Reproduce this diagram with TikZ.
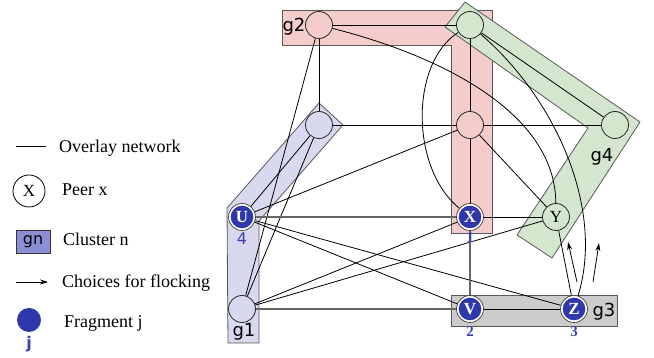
\documentclass[tikz,border=0pt]{standalone}
\usepackage{fontspec}
\setmainfont{Liberation Serif}
\newfontfamily\gfont{DejaVu Sans}
\usetikzlibrary{arrows.meta}
\definecolor{pinkc}{RGB}{244,204,204}
\definecolor{greenc}{RGB}{212,230,205}
\definecolor{lavc}{RGB}{216,216,238}
\definecolor{grayc}{RGB}{204,204,204}
\definecolor{fragblue}{RGB}{46,56,170}
\definecolor{numblue}{RGB}{58,66,184}
\definecolor{legbox}{RGB}{140,142,214}
\begin{document}
\begin{tikzpicture}[x=1pt,y=1pt,
  clusterbox/.style={draw=black!65, line width=0.8pt},
  peer/.style={circle, draw=black!85, line width=0.8pt, minimum size=27pt, inner sep=0pt, font=\fontsize{17}{17}\selectfont},
  frag/.style={circle, draw=black!75, line width=0.7pt, fill=white, minimum size=27pt, inner sep=0pt, text=white, font=\fontsize{17}{17}\selectfont\bfseries, path picture={\fill[fragblue] (path picture bounding box.center) circle (11.3pt);}},
  edge/.style={draw=black, line width=0.8pt},
  grayedge/.style={draw=black!60, line width=1.3pt},
  glabel/.style={anchor=base, font=\gfont\fontsize{18}{18}\selectfont, inner sep=0pt},
  numlabel/.style={text=numblue, font=\fontsize{15}{15}\selectfont\bfseries, inner sep=0pt},
  legtext/.style={anchor=base west, inner sep=0pt, font=\fontsize{18}{18}\selectfont},
  flock/.style={-{Stealth[length=8pt,width=5pt]}, line width=0.8pt}
]
\useasboundingbox (0,0) rectangle (654,358);
% clusters
\filldraw[clusterbox, fill=pinkc] (282,348) -- (492,348) -- (492,125) -- (451,125) -- (451,313) -- (282,313) -- cycle;
\filldraw[clusterbox, fill=greenc] (465,356) -- (640,236) -- (552,100) -- (517,123) -- (588,230) -- (445,331) -- cycle;
\filldraw[clusterbox, fill=lavc] (319,255) -- (343,233) -- (259,137) -- (259,15) -- (228,15) -- (227,150) -- cycle;
\filldraw[clusterbox, fill=grayc] (451,32) rectangle (617,63);
\node[glabel] (g2) at (294,326) {g2};
\node[glabel] (g4) at (602,196) {g4};
\node[glabel] (g1) at (244,21) {g1};
\node[glabel] (g3) at (604,41) {g3};
% nodes
\node[peer, fill=pinkc] (A) at (319,333) {};
\node[peer, fill=greenc] (B) at (470,333) {};
\node[peer, fill=greenc] (C) at (615,233) {};
\node[peer, fill=lavc] (D) at (319,233) {};
\node[peer, fill=pinkc] (E) at (470,233) {};
\node[peer, fill=greenc] (Y) at (556,141) {Y};
\node[peer, fill=lavc] (F) at (242,49) {};
\node[frag] (U) at (242,141) {U};
\node[frag] (X) at (470,141) {X};
\node[frag] (V) at (470,49) {V};
\node[frag] (Z) at (574,49) {Z};
% edges
\draw[edge] (A) .. controls (430,305) and (555,250) .. (Y);
\draw[edge] (B) .. controls (410,295) and (410,190) .. (X);
\draw[edge] (B) .. controls (555,260) and (605,150) .. (Z);
\draw[edge] (A) -- (B);
\draw[edge] (A) -- (D);
\draw[edge] (A) -- (F);
\draw[edge] (B) -- (C);
\draw[edge] (B) -- (E);
\draw[edge] (C) -- (E);
\draw[edge] (D) -- (E);
\draw[edge] (D) -- (U);
\draw[edge] (D) -- (F);
\draw[edge] (E) -- (X);
\draw[edge] (E) -- (U);
\draw[edge] (E) -- (Y);
\draw[edge] (U) -- (V);
\draw[edge] (U) -- (Z);
\draw[edge] (F) -- (X);
\draw[edge] (F) -- (Y);
\draw[edge] (X) -- (Y);
\draw[edge] (Y) -- (Z);
\draw[edge] (V) -- (Z);
\draw[grayedge] (U) -- (X);
\draw[grayedge] (F) -- (V);
\draw[grayedge] (X) -- (V);
% fragment numbers
\node[numlabel] (n1) at (470,120) {1};
\node[numlabel] (n2) at (470,26) {2};
\node[numlabel] (n3) at (574,26) {3};
\node[numlabel, font=\gfont\fontsize{16}{16}\selectfont] (n4) at (242,119) {4};
% flocking arrows
\coordinate (a1s) at (577,76); \coordinate (a1e) at (568,116);
\coordinate (a2s) at (593,76); \coordinate (a2e) at (599,115);
\draw[flock] (a1s) -- (a1e);
\draw[flock] (a2s) -- (a2e);
% legend
\coordinate (l1a) at (16,212); \coordinate (l1b) at (46,212);
\draw[edge] (l1a) -- (l1b);
\node[legtext] (t1) at (59,205) {Overlay network};
\node[circle, draw=black, line width=0.8pt, minimum size=32pt, inner sep=0pt, font=\fontsize{17}{17}\selectfont] (lx) at (29,167) {X};
\node[legtext] (t2) at (62,162) {Peer x};
\node[draw=black!80, line width=0.8pt, fill=legbox, minimum width=34pt, minimum height=23pt, inner sep=0pt, font=\gfont\fontsize{16}{16}\selectfont] (lg) at (33,116.5) {gn};
\node[legtext] (t3) at (63,112) {Cluster n};
\coordinate (la) at (16,76); \coordinate (lb) at (48,76);
\draw[flock] (la) -- (lb);
\node[legtext] (t4) at (62,70) {Choices for flocking};
\node[circle, fill=fragblue, minimum size=24pt, inner sep=0pt] (lf) at (29,38) {};
\node[text=numblue, font=\gfont\fontsize{16}{16}\selectfont\bfseries, inner sep=0pt] (lj) at (29,14) {j};
\node[legtext] (t5) at (64,30) {Fragment j};
\end{tikzpicture}
\end{document}
